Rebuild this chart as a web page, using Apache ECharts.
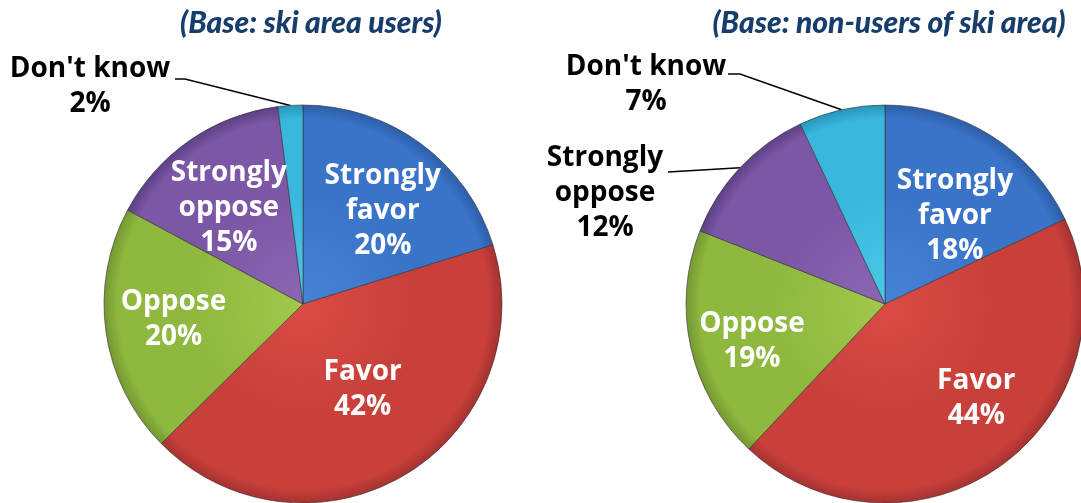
<!DOCTYPE html>
<html>
<head>
<meta charset="utf-8">
<script src="https://cdn.jsdelivr.net/npm/echarts@6/dist/echarts.min.js"></script>
<style>
html,body{margin:0;padding:0;background:#fff;}
#chart{width:1081px;height:503px;}
</style>
</head>
<body>
<div id="chart"></div>
<script>
// ---- data ----
const categories = ["Strongly favor", "Favor", "Oppose", "Strongly oppose", "Don't know"];
const usersValues = [20, 42, 20, 15, 2];
const nonUsersValues = [18, 44, 19, 12, 7];
const titles = ["(Base: ski area users)", "(Base: non-users of ski area)"];

// ---- styles / layout ----
const palette = [
  ['#4682d6', '#3a74c9', '#2d5ea8'],
  ['#da4c44', '#c9403b', '#a53230'],
  ['#a2c94c', '#8fb83f', '#749832'],
  ['#8a66b3', '#7b57a6', '#5d4184'],
  ['#4cc8e8', '#3ab7dc', '#2896bb']
];
const pies = [
  { center: [303, 304], radius: 199, titleX: 306,
    outside: { 4: { x: 90, y: 87, pts: [[185, 79], [175, 79]] } },
    offsets: [[19, -10], [7, -2], [-28, 1], [-16, -12]] },
  { center: [885, 304], radius: 199, titleX: 884,
    outside: { 3: { x: 605, y: 193, pts: [[668, 172]] },
               4: { x: 646, y: 85, pts: [[740, 74], [728, 74]] } },
    offsets: [[15, -1], [31, 12], [-33, 15]] }
];
const seriesValues = [usersValues, nonUsersValues];

function fmt(name, v) {
  return name.replace('Strongly ', 'Strongly\n') + '\n' + v + '%';
}

function buildSeries(idx) {
  const p = pies[idx];
  const vals = seriesValues[idx];
  const data = categories.map(function (name, i) {
    const c = palette[i];
    const isOut = !!p.outside[i];
    return {
      name: name,
      value: vals[i],
      itemStyle: {
        color: {
          type: 'radial', global: true,
          x: p.center[0], y: p.center[1], r: p.radius,
          colorStops: [
            { offset: 0, color: c[0] },
            { offset: 0.55, color: c[1] },
            { offset: 0.93, color: c[1] },
            { offset: 1, color: c[2] }
          ]
        }
      },
      label: isOut ? {
        position: 'outside', color: '#000', align: 'center',
        formatter: function () { return name === "Don't know" ? name + '\n' + vals[i] + '%' : fmt(name, vals[i]); }
      } : {
        position: 'inside', color: '#fff',
        offset: p.offsets[i],
        formatter: function () { return fmt(name, vals[i]); }
      },
      labelLine: { show: isOut }
    };
  });
  return {
    type: 'pie',
    center: p.center,
    radius: [0, p.radius],
    startAngle: 90,
    clockwise: true,
    avoidLabelOverlap: false,
    animation: false,
    silent: true,
    itemStyle: { borderColor: 'rgba(50,50,50,0.6)', borderWidth: 1 },
    label: {
      fontFamily: '"Open Sans", sans-serif',
      fontWeight: 'bold',
      fontSize: 28,
      lineHeight: 35
    },
    labelLine: { lineStyle: { color: '#000', width: 1.5 }, length: 15, length2: 10 },
    labelLayout: function (params) {
      const cfg = p.outside[params.dataIndex];
      if (!cfg) return;
      const start = params.labelLinePoints ? params.labelLinePoints[0] : cfg.pts[0];
      const pts = [start].concat(cfg.pts);
      if (pts.length === 2) pts.push(cfg.pts[0]);
      return { x: cfg.x, y: cfg.y, align: 'center', verticalAlign: 'middle', labelLinePoints: pts };
    },
    data: data
  };
}

const chart = echarts.init(document.getElementById('chart'), null, { renderer: 'canvas' });
chart.setOption({
  backgroundColor: '#fff',
  title: titles.map(function (t, i) {
    return {
      text: t,
      left: pies[i].titleX,
      top: 3,
      textAlign: 'center',
      textStyle: {
        fontFamily: 'Lato, sans-serif',
        fontStyle: 'italic',
        fontWeight: 900,
        fontSize: 30,
        color: '#173d6d'
      }
    };
  }),
  series: [buildSeries(0), buildSeries(1)]
});
</script>
</body>
</html>
